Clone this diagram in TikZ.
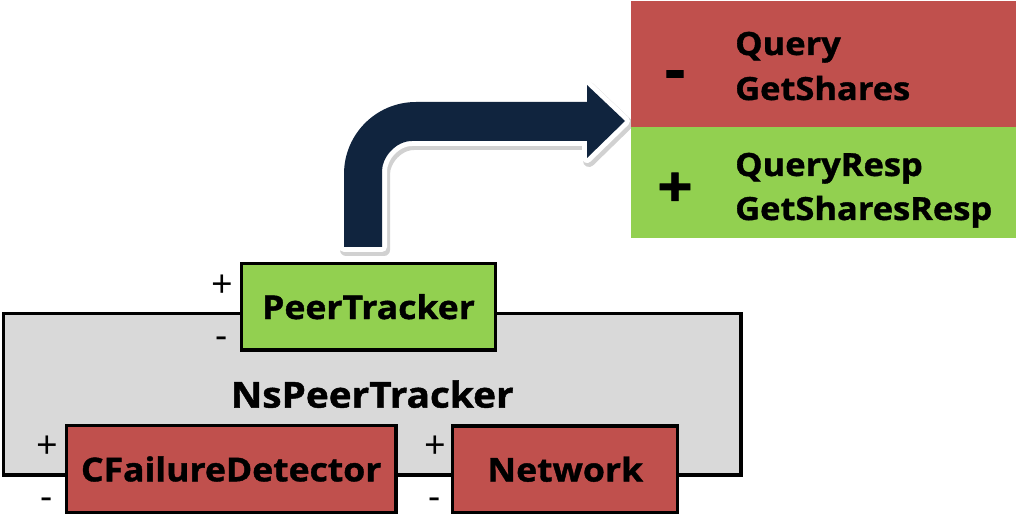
\documentclass[tikz,border=0pt]{standalone}
\usepackage{fontspec}
\setmainfont{Open Sans}[BoldFeatures={FakeStretch=1.08, FakeBold=1.2}]
\definecolor{boxred}{HTML}{C0504D}
\definecolor{boxgreen}{HTML}{92D050}
\definecolor{boxgray}{HTML}{D9D9D9}
\definecolor{navy}{HTML}{10243E}
\begin{document}
\begin{tikzpicture}[x=1bp,y=-1bp,
  comp/.style={draw=black, line width=3.3bp, inner sep=0pt, font=\fontsize{33}{40}\selectfont\bfseries},
  msgbox/.style={draw=none, inner sep=0pt, minimum width=385bp},
  msgtxt/.style={inner sep=0pt, anchor=base west, font=\fontsize{32}{36}\selectfont\bfseries},
  pm/.style={inner sep=0pt, font=\fontsize{38}{38}\selectfont},
  bigpm/.style={inner sep=0pt, font=\fontsize{58}{58}\selectfont\bfseries},
  arrowshape/.style={insert path={(344,247) -- (344,174) .. controls (344,134.2) and (376.2,102) .. (416,102) -- (587,102) -- (587,85) -- (625,121) -- (587,158) -- (587,141) -- (412,141) .. controls (395.4,141) and (382,157.6) .. (382,171) -- (382,247) -- cycle}}]
\useasboundingbox (0,0) rectangle (1020,531);
% outer component
\node[comp, fill=boxgray, minimum width=737.7bp, minimum height=161.7bp, font=\fontsize{36}{40}\selectfont\bfseries] (ns) at (372.2,394.2) {NsPeerTracker};
% inner components
\node[comp, fill=boxgreen, minimum width=254bp, minimum height=86.7bp] (pt) at (368.5,306.7) {PeerTracker};
\node[comp, fill=boxred, minimum width=329.5bp, minimum height=86.6bp] (cfd) at (231.2,469) {CFailureDetector};
\node[comp, fill=boxred, minimum width=225bp, minimum height=86.3bp] (net) at (565.2,469.2) {Network};
% port signs
\node[pm] (ptp) at (222,286) {+};
\node[pm] (ptm) at (222,343) {-};
\node[pm] (cfdp) at (47,447) {+};
\node[pm] (cfdm) at (47,504) {-};
\node[pm] (netp) at (435,447) {+};
\node[pm] (netm) at (435,504) {-};
% block arrow
\path[draw=black, opacity=0.18, line width=12bp, line join=round, shift={(2,3)}, arrowshape];
\path[draw=white, line width=10bp, line join=round, arrowshape];
\path[fill=navy, arrowshape];
% message boxes
\node[msgbox, fill=boxred, minimum height=126bp] (neg) at (823.5,64) {};
\node[msgbox, fill=boxgreen, minimum height=111bp] (pos) at (823.5,182.5) {};
\node[bigpm] (negs) at (675,80) {-};
\node[bigpm] (poss) at (675,190) {+};
\node[msgtxt] (q1) at (735,55) {Query};
\node[msgtxt] (q2) at (735,100) {GetShares};
\node[msgtxt] (q3) at (735,176) {QueryResp};
\node[msgtxt] (q4) at (735,220) {GetSharesResp};
\end{tikzpicture}
\end{document}
